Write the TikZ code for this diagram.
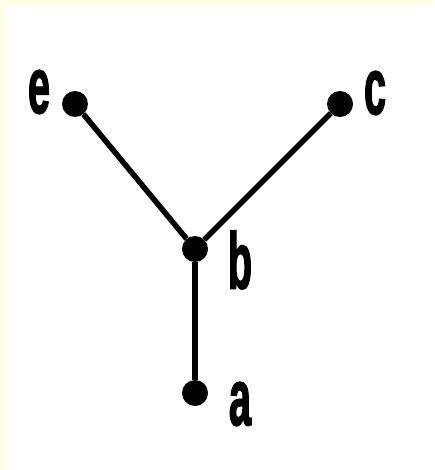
\documentclass[tikz,border=0pt]{standalone}
\usepackage{fontspec}
\setmainfont{Liberation Sans}
\newfontfamily\heavyfont[FakeBold=2.5]{Liberation Sans Bold}
\usepackage{graphicx}
\usetikzlibrary{positioning}

\definecolor{cream}{RGB}{255,255,230}
\newcommand{\tallname}[1]{\scalebox{0.9}[1.8]{#1}}

\begin{document}
\begin{tikzpicture}[
    x=1pt, y=-1pt,
    dot/.style={circle, fill=black, inner sep=0pt, minimum size=26pt},
    edge/.style={line width=5.5pt},
    lbl/.style={inner sep=0pt, font=\heavyfont\fontsize{44}{44}\selectfont}
]
    % page
    \useasboundingbox (0,0) rectangle (434,470);
    \fill[white] (0,0) rectangle (434,470);
    \fill[cream] (0,0) rectangle (434,6);
    \fill[cream] (0,0) rectangle (6,470);

    % Vertices
    \node[dot] (e) at (75,104) {};
    \node[dot] (c) at (340,104) {};
    \node[dot] (b) at (195,249) {};
    \node[dot] (a) at (195,393) {};

    % Edges
    \draw[edge] (e) -- (b);
    \draw[edge] (c) -- (b);
    \draw[edge] (b) -- (a);

    % Labels
    \node[lbl] (le) at (39,92) {\tallname{e}};
    \node[lbl] (lc) at (375,93) {\tallname{c}};
    \node[lbl] (lb) at (240,260) {\tallname{b}};
    \node[lbl] (la) at (240,404) {\tallname{a}};

\end{tikzpicture}
\end{document}
